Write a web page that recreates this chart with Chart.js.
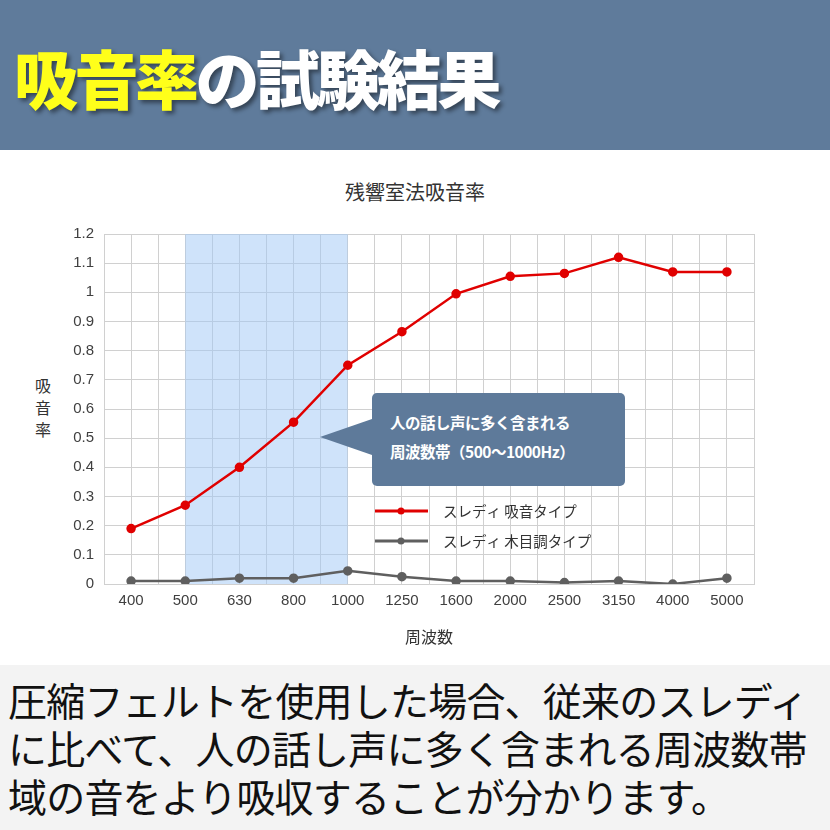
<!DOCTYPE html>
<html><head><meta charset="utf-8">
<script src="https://cdn.jsdelivr.net/npm/chart.js@4"></script>
<style>
body{margin:0;width:830px;height:830px;overflow:hidden;background:#fff;font-family:"Noto Sans CJK JP",sans-serif;position:relative}
#hdr{position:absolute;left:0;top:0;width:830px;height:150px;background:#5f7b9b}
#hdr div{position:absolute;left:14px;top:30px;font-size:64px;font-weight:900;letter-spacing:-3.5px;text-shadow:3px 3px 4px rgba(0,0,0,.45);white-space:nowrap}
#ttl{position:absolute;left:0;width:830px;top:177px;text-align:center;font-size:20px;color:#333}
#yt{position:absolute;left:32px;top:374px;width:22px;font-size:16px;line-height:22px;color:#333;text-align:center}
#cv{position:absolute;left:0;top:150px}
#call{position:absolute;left:372px;top:393px;width:253px;height:93px;background:#5e7a9a;border-radius:5px;color:#fff;font-weight:bold;font-size:15.5px;line-height:29px;box-sizing:border-box;padding:15px 0 0 18px;letter-spacing:-0.5px}
#call:before{content:"";position:absolute;left:-52px;top:26px;border-right:52px solid #5e7a9a;border-top:18px solid transparent;border-bottom:18px solid transparent}
#bot{position:absolute;left:0;top:665px;width:830px;height:165px;background:#f3f3f3;font-size:39px;line-height:48px;color:#111;padding:10px 0 0 8px;box-sizing:border-box;letter-spacing:-0.8px;white-space:nowrap}
</style></head><body>
<div id="hdr"><div><span style="color:#ffff1a">吸音率</span><span style="color:#fff">の試験結果</span></div></div>
<div id="ttl">残響室法吸音率</div>
<div id="yt">吸<br>音<br>率</div>
<canvas id="cv" width="830" height="510"></canvas>
<div id="call">人の話し声に多く含まれる<br>周波数帯（500〜1000Hz）</div>
<div id="bot">圧縮フェルトを使用した場合、従来のスレディ<br>に比べて、人の話し声に多く含まれる周波数帯<br>域の音をより吸収することが分かります。</div>
<script>
const categories=['400','500','630','800','1000','1250','1600','2000','2500','3150','4000','5000'];
const absorbType=[0.19,0.27,0.40,0.555,0.75,0.865,0.995,1.055,1.065,1.12,1.07,1.07];
const woodType=[0.01,0.01,0.02,0.02,0.045,0.025,0.01,0.01,0.005,0.01,0,0.02];
const seriesNames=['スレディ 吸音タイプ','スレディ 木目調タイプ'];
const bandStart=1, bandEnd=4;
const toPts=a=>a.map((v,i)=>({x:i,y:v}));
const bandPlugin={id:'band',beforeDatasetsDraw(c){const{ctx,scales:{x,y}}=c;ctx.save();ctx.fillStyle='rgba(160,200,245,0.5)';
 const l=x.getPixelForValue(bandStart),r=x.getPixelForValue(bandEnd);ctx.fillRect(l,y.top,r-l,y.bottom-y.top);ctx.restore();}};
const legPlugin={id:'leg',afterDatasetsDraw(c){const ctx=c.ctx;ctx.save();ctx.font='14.5px "Noto Sans CJK JP"';ctx.textBaseline='middle';
 c.data.datasets.forEach((d,i)=>{const yy=361+i*30;ctx.strokeStyle=d.borderColor;ctx.lineWidth=3;ctx.beginPath();ctx.moveTo(375,yy);ctx.lineTo(428,yy);ctx.stroke();
 ctx.fillStyle=d.borderColor;ctx.beginPath();ctx.arc(401,yy,3.5,0,7);ctx.fill();ctx.fillStyle='#333';ctx.fillText(d.label,443,yy);});ctx.restore();}};
new Chart(document.getElementById('cv'),{type:'line',
data:{datasets:[
{label:seriesNames[0],data:toPts(absorbType),borderColor:'#e00000',backgroundColor:'#e00000',borderWidth:2.5,pointRadius:3.5},
{label:seriesNames[1],data:toPts(woodType),borderColor:'#5f5f5f',backgroundColor:'#5f5f5f',borderWidth:2.5,pointRadius:3.5}]},
options:{responsive:false,animation:false,layout:{padding:{left:0,right:76,top:84,bottom:9}},
plugins:{legend:{display:false},tooltip:{enabled:false}},
scales:{
x:{type:'linear',min:-0.5,max:11.5,afterFit(s){s.height=67},afterBuildTicks(s){const t=[];for(let v=-0.5;v<=11.5;v+=0.5)t.push({value:v});s.ticks=t;},
 ticks:{autoSkip:false,maxRotation:0,padding:8,color:'#404040',font:{size:15,family:'Liberation Sans'},callback:v=>Number.isInteger(v)?categories[v]:''},
 grid:{color:'#d0d0d0',drawTicks:false},border:{color:'#d0d0d0'},
 title:{display:true,text:'周波数',color:'#333',font:{size:16,family:'Noto Sans CJK JP'},padding:{top:4}}},
y:{min:0,max:1.2,afterFit(s){s.width=104},ticks:{stepSize:0.1,padding:10,color:'#404040',font:{size:15,family:'Liberation Sans'},callback:v=>Math.round(v*10)/10},
 grid:{color:'#d0d0d0',drawTicks:false},border:{color:'#d0d0d0'}}}},
plugins:[bandPlugin,legPlugin]});
</script></body></html>
